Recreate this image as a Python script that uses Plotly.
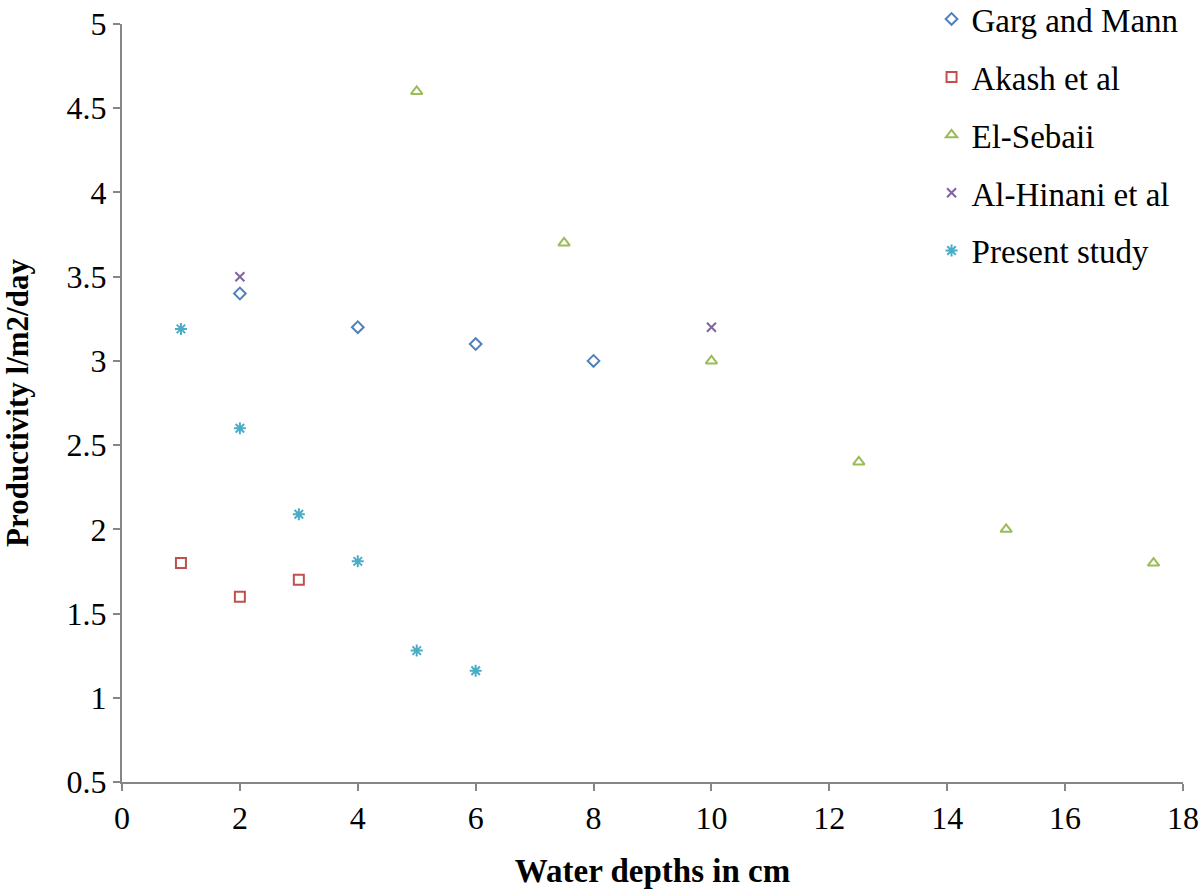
import plotly.graph_objects as go

# water depth (cm) vs productivity (l/m2/day)
garg_x = [2, 4, 6, 8]
garg_y = [3.4, 3.2, 3.1, 3.0]
akash_x = [1, 2, 3]
akash_y = [1.8, 1.6, 1.7]
sebaii_x = [5, 7.5, 10, 12.5, 15, 17.5]
sebaii_y = [4.6, 3.7, 3.0, 2.4, 2.0, 1.8]
hinani_x = [2, 10]
hinani_y = [3.5, 3.2]
present_x = [1, 2, 3, 4, 5, 6]
present_y = [3.19, 2.6, 2.09, 1.81, 1.28, 1.16]

series = [
    ("Garg and Mann", garg_x, garg_y, "diamond-open", "#4F81BD", 9),
    ("Akash et al", akash_x, akash_y, "square-open", "#C0504D", 10),
    ("El-Sebaii", sebaii_x, sebaii_y, "triangle-up-open", "#9BBB59", 10),
    ("Al-Hinani et al", hinani_x, hinani_y, "x-thin-open", "#8064A2", 9),
    ("Present study", present_x, present_y, "asterisk-open", "#4BACC6", 10),
]

fig = go.Figure()
for i, (name, xs, ys, sym, col, sz) in enumerate(series):
    fig.add_trace(go.Scatter(
        x=xs, y=ys, mode="markers", name=name, legendgroup=str(i),
        marker=dict(symbol=sym, size=sz, color=col, line=dict(color=col, width=2)),
    ))

axis_style = dict(
    showgrid=False, zeroline=False, showline=True, linecolor="#868686", linewidth=2,
    ticks="outside", ticklen=7, tickcolor="#868686", tickwidth=2, automargin=False,
    ticklabeloverflow="allow",
    tickfont=dict(family="Liberation Serif", size=32, color="black"),
)

fig.update_layout(
    width=1200, height=889,
    margin=dict(l=122, r=17, t=24, b=107, autoexpand=False),
    plot_bgcolor="white", paper_bgcolor="white",
    font=dict(family="Liberation Serif", color="black"),
    xaxis=dict(range=[0, 18], dtick=2,
               title=dict(text="<b>Water depths in cm</b>", font=dict(size=33), standoff=25),
               **axis_style),
    yaxis=dict(range=[0.5, 5], dtick=0.5,
               title=dict(text="<b>Productivity l/m2/day</b>", font=dict(size=31), standoff=29),
               **axis_style),
    legend=dict(x=0.763, y=1.0435, xanchor="left", yanchor="top",
                font=dict(size=33), tracegroupgap=12, bgcolor="rgba(0,0,0,0)",
                itemwidth=30),
)

# drop the default 8px body margin so the figure fills the window
fig.write_html("out.html", config={"displayModeBar": False},
               post_script="document.body.style.margin='0';")
